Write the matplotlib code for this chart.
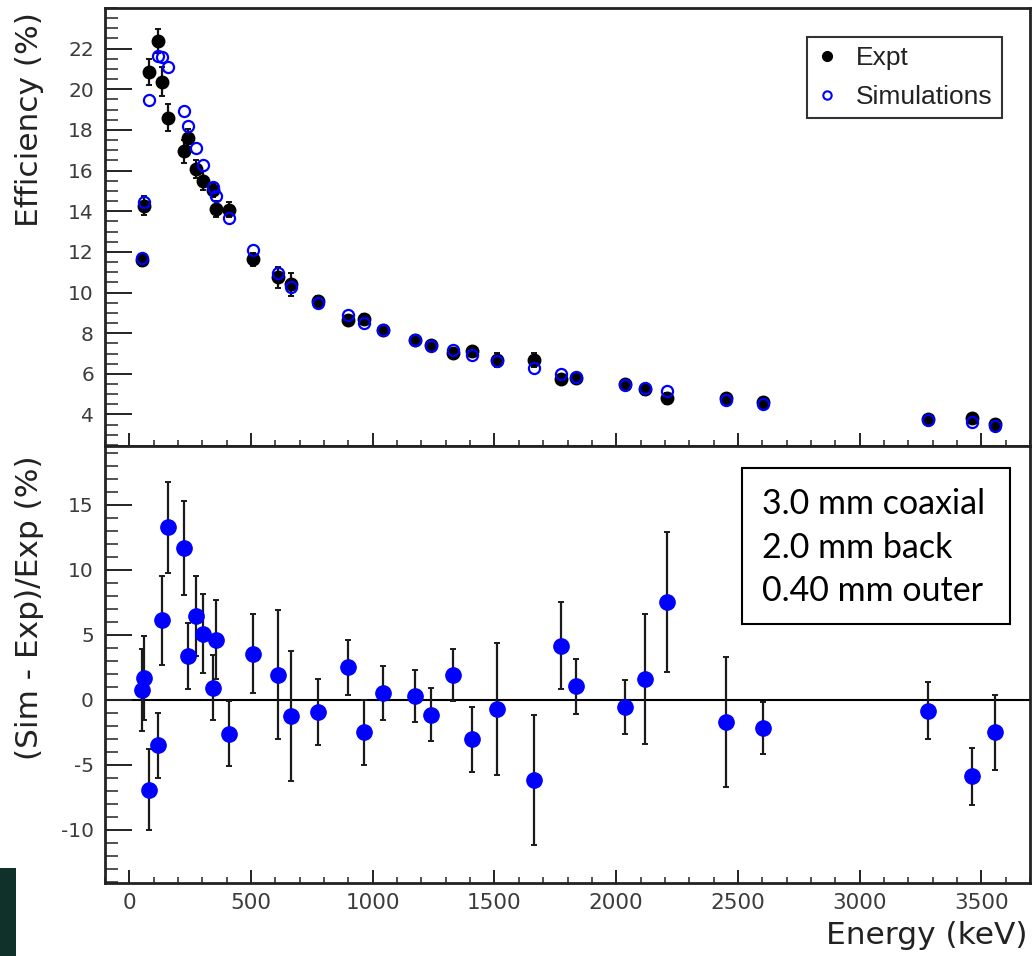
import matplotlib
matplotlib.use("Agg")
import matplotlib.pyplot as plt
from matplotlib.lines import Line2D
from matplotlib.patches import Rectangle
from matplotlib.ticker import MultipleLocator

plt.rcParams["axes.unicode_minus"] = False

# gamma-line energies (keV)
energy = [53, 59, 80, 118, 134, 159, 223, 241, 274, 302, 343, 354, 411,
          508, 610, 665, 777, 897, 964, 1040, 1173, 1239, 1331, 1408, 1509,
          1662, 1772, 1836, 2035, 2118, 2207, 2450, 2603, 3280, 3460, 3558]

# measured full-energy-peak efficiency (%)
expt = [11.62, 14.28, 20.87, 22.38, 20.37, 18.61, 16.94, 17.60, 16.08, 15.51,
        15.05, 14.12, 14.07, 11.64, 10.76, 10.40, 9.58, 8.67, 8.72, 8.14,
        7.65, 7.44, 7.03, 7.13, 6.67, 6.69, 5.77, 5.80, 5.48, 5.23, 4.79,
        4.79, 4.62, 3.76, 3.84, 3.53]
expt_err = [0.30, 0.45, 0.64, 0.57, 0.72, 0.65, 0.57, 0.45, 0.45, 0.45,
            0.35, 0.40, 0.37, 0.33, 0.52, 0.57, 0.24, 0.18, 0.21, 0.17,
            0.15, 0.15, 0.14, 0.18, 0.34, 0.33, 0.19, 0.12, 0.11, 0.26,
            0.26, 0.24, 0.09, 0.08, 0.08, 0.10]

# simulated efficiency (%)
sim = [11.72, 14.45, 19.45, 21.62, 21.60, 21.08, 18.93, 18.18, 17.10, 16.29,
       15.18, 14.77, 13.68, 12.07, 10.97, 10.28, 9.49, 8.89, 8.50, 8.18,
       7.67, 7.35, 7.16, 6.91, 6.62, 6.27, 6.01, 5.86, 5.45, 5.31, 5.15,
       4.71, 4.52, 3.73, 3.61, 3.44]

# (sim - expt)/expt in percent
resid = [0.72, 1.67, -6.92, -3.51, 6.10, 13.25, 11.67, 3.33, 6.41, 5.08,
         0.90, 4.62, -2.64, 3.54, 1.92, -1.23, -0.97, 2.49, -2.51, 0.51,
         0.26, -1.18, 1.90, -3.03, -0.72, -6.21, 4.15, 1.03, -0.59, 1.62,
         7.51, -1.74, -2.20, -0.86, -5.89, -2.51]
resid_err = [3.15, 3.20, 3.10, 2.50, 3.40, 3.50, 3.60, 2.55, 3.08, 3.05,
             2.50, 3.05, 2.50, 3.04, 4.95, 5.00, 2.54, 2.13, 2.50, 2.10,
             2.00, 2.04, 2.00, 2.50, 5.10, 5.00, 3.33, 2.10, 2.06, 5.00,
             5.40, 5.00, 2.00, 2.20, 2.20, 2.87]

box_lines = ["3.0 mm coaxial", "2.0 mm back", "0.40 mm outer"]

W, H = 1034, 956
fig = plt.figure(figsize=(W / 100, H / 100), dpi=100)
fig.patch.set_facecolor("white")

def fx(px):
    return px / W

def fy(py):
    return 1 - py / H

ax1 = fig.add_axes([fx(105), fy(446), fx(1030) - fx(105), fy(8) - fy(446)])
ax2 = fig.add_axes([fx(105), fy(883), fx(1030) - fx(105), fy(446) - fy(883)])

tick_col = "#3c3c3c"
for ax in (ax1, ax2):
    ax.set_xlim(-100, 3700)
    ax.xaxis.set_major_locator(MultipleLocator(500))
    ax.xaxis.set_minor_locator(MultipleLocator(100))
    for s in ax.spines.values():
        s.set_linewidth(2.0)
        s.set_color("#222222")
    ax.tick_params(axis="x", which="major", direction="in", length=9.4,
                   width=1.4, color="#222222", top=False, bottom=True)
    ax.tick_params(axis="x", which="minor", direction="in", length=4.3,
                   width=1.1, color="#222222", top=False, bottom=True)
    ax.tick_params(axis="y", which="major", direction="in", length=19.4,
                   width=1.4, color="#222222", left=True, right=False,
                   pad=8, labelsize=14.5, labelcolor=tick_col)
    ax.tick_params(axis="y", which="minor", direction="in", length=9.4,
                   width=1.1, color="#222222", left=True, right=False)

# efficiency panel
ax1.set_ylim(2.45, 24)
ax1.yaxis.set_major_locator(MultipleLocator(2))
ax1.yaxis.set_minor_locator(MultipleLocator(0.5))
ax1.set_yticks(range(4, 23, 2))
ax1.tick_params(axis="x", labelbottom=False)
ax1.errorbar(energy, expt, yerr=expt_err, fmt="o", color="black", ms=9,
             ecolor="#111111", elinewidth=1.6, capsize=2.2, capthick=1.4,
             zorder=3)
ax1.plot(energy, sim, "o", ms=8, mfc="none", mec="#0000ff", mew=1.6,
         zorder=4)

handles = [
    Line2D([], [], marker="o", ls="none", color="black", ms=7),
    Line2D([], [], marker="o", ls="none", mfc="none", mec="#0000ff",
           ms=6, mew=1.5),
]
leg = ax1.legend(handles, ["Expt", "Simulations"], loc="upper right",
                 bbox_to_anchor=(fx(1002), fy(37)),
                 bbox_transform=fig.transFigure, borderaxespad=0,
                 prop={"family": "Liberation Sans", "size": 19},
                 fancybox=False, framealpha=1, edgecolor="#333333",
                 handlelength=0.8, handletextpad=0.7, labelspacing=0.55,
                 borderpad=0.35)
leg.get_frame().set_linewidth(1.5)
for t in leg.get_texts():
    t.set_color("#222222")

# residual panel
ax2.set_ylim(-14.1, 19.5)
ax2.yaxis.set_major_locator(MultipleLocator(5))
ax2.yaxis.set_minor_locator(MultipleLocator(1))
ax2.set_yticks([-10, -5, 0, 5, 10, 15])
ax2.tick_params(axis="x", which="major", labelsize=15.5,
                labelcolor=tick_col, pad=7)
ax2.axhline(0, color="black", lw=1.5, zorder=1)
ax2.errorbar(energy, resid, yerr=resid_err, fmt="o", color="#0000ff",
             ms=11, ecolor="#1a1a1a", elinewidth=1.6, capsize=2.2,
             capthick=1.4, zorder=3)

# axis titles
fig.text(fx(30), fy(120), "Efficiency (%)", rotation=90, ha="center",
         va="center", fontsize=22.5, color="#222222")
fig.text(fx(30), fy(608), "(Sim - Exp)/Exp (%)", rotation=90, ha="center",
         va="center", fontsize=22.5, color="#222222")
fig.text(fx(1028), fy(935), "Energy (keV)", ha="right", va="center",
         fontsize=22.5, color="#222222")

# parameter box
fig.patches.append(Rectangle((fx(742), fy(624)), fx(1010) - fx(742),
                             fy(468) - fy(624), transform=fig.transFigure,
                             facecolor="white", edgecolor="black", lw=1.5,
                             zorder=5))
for i, line in enumerate(box_lines):
    fig.text(fx(762), fy(504 + 43.5 * i), line, ha="left", va="center",
             fontsize=24.5, family="Lato", color="black", zorder=6)

# dark strip at lower left
fig.patches.append(Rectangle((0, 0), fx(16), fy(868),
                             transform=fig.transFigure,
                             facecolor="#10302a", edgecolor="none"))

fig.savefig("out.png", dpi=100)
